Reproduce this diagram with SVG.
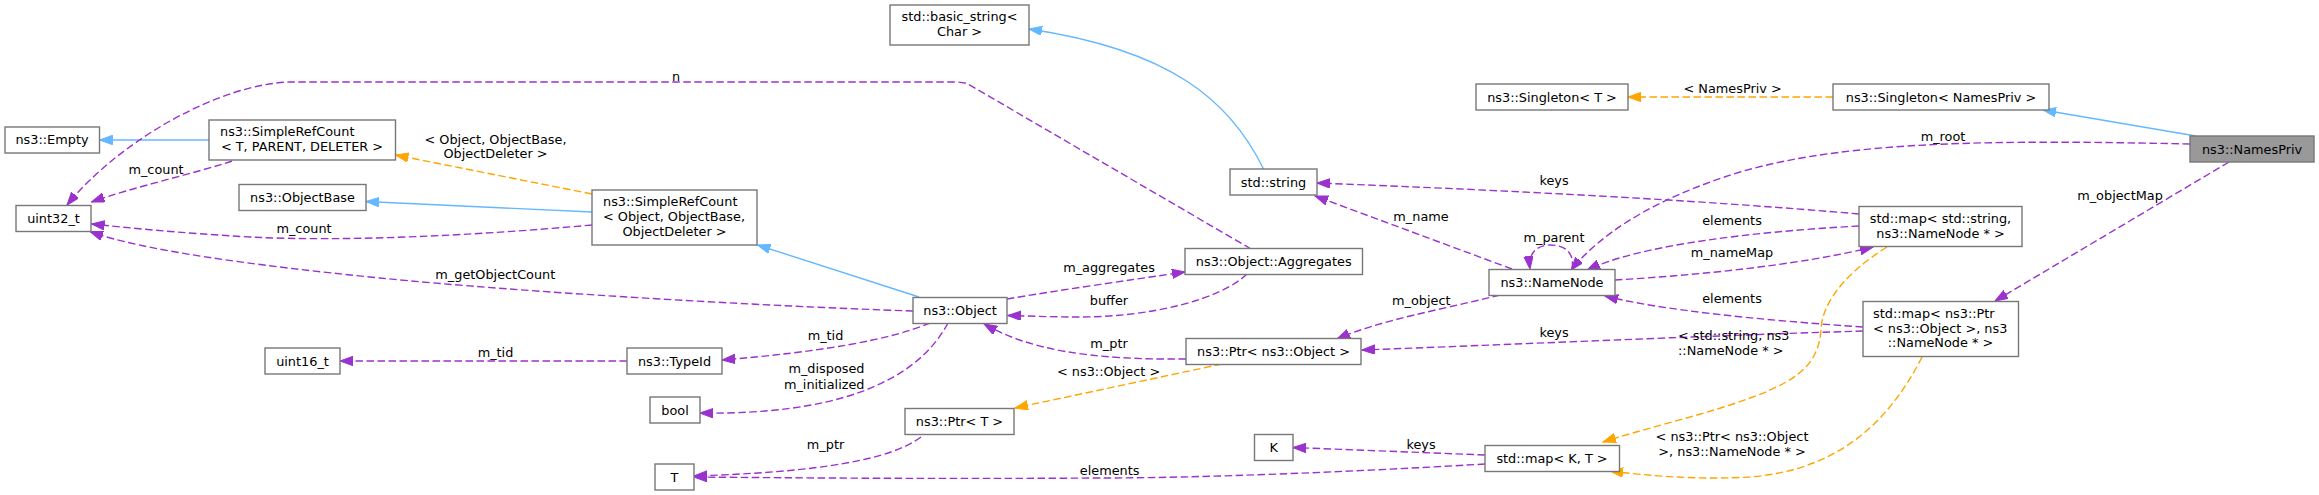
<svg xmlns="http://www.w3.org/2000/svg" width="2319" height="495" viewBox="0 0 2319 495">
<style>
.n rect{fill:#fff;stroke:#777;stroke-width:1.4}
.n.main rect{fill:#999}
text{font-family:"DejaVu Sans","Liberation Sans",sans-serif;font-size:12.85px;fill:#000}
.c{text-anchor:middle}
.s{text-anchor:start}
.e{text-anchor:end}
.edge path{fill:none;stroke-width:1.4}
.u{stroke:#9a32cd;stroke-dasharray:7.5,3.5;marker-end:url(#ap)}
.i{stroke:#63b8ff;marker-end:url(#ab)}
.t{stroke:#ffa500;stroke-dasharray:7.5,3.5;marker-end:url(#ao)}
</style>
<defs>
<marker id="ap" markerUnits="userSpaceOnUse" markerWidth="14" markerHeight="10" refX="13" refY="4.7" orient="auto"><path d="M0,0 L13,4.7 L0,9.4 z" fill="#9a32cd" stroke="#9a32cd" stroke-width="1"/></marker>
<marker id="ab" markerUnits="userSpaceOnUse" markerWidth="14" markerHeight="10" refX="13" refY="4.7" orient="auto"><path d="M0,0 L13,4.7 L0,9.4 z" fill="#63b8ff" stroke="#63b8ff" stroke-width="1"/></marker>
<marker id="ao" markerUnits="userSpaceOnUse" markerWidth="14" markerHeight="10" refX="13" refY="4.7" orient="auto"><path d="M0,0 L13,4.7 L0,9.4 z" fill="#ffa500" stroke="#ffa500" stroke-width="1"/></marker>
</defs>
<rect width="2319" height="495" fill="#fff"/>
<g id="connectors" class="edge">
<path class="i" d="M209,140 L99.5,140"/>
<path class="i" d="M592,212 L366,201.5"/>
<path class="t" d="M592,194 L395.5,155"/>
<path class="u" d="M232,161 C200,172 130,188 91.5,202"/>
<path class="u" d="M592,225 C480,235 350,242 250,237 C180,233 130,228 91.5,224"/>
<path class="u" d="M1251,249 L968,84 Q963,82 955,82 L290,82 C220,84 120,140 67,205"/>
<path class="u" d="M913,311 C760,306 520,292 380,278 C250,265 140,250 90,231.5"/>
<path class="u" d="M627,361 L340,361"/>
<path class="u" d="M930,323 C890,340 820,352 722,360"/>
<path class="u" d="M948,323 C915,385 830,415 700,413"/>
<path class="i" d="M919,297 L757.5,245"/>
<path class="u" d="M1007,299 C1060,290 1130,280 1185,272"/>
<path class="u" d="M1247,274 C1220,300 1150,317 1080,317 C1050,317 1030,316 1008,315.5"/>
<path class="u" d="M1186,359 C1090,360 1030,350 984,324"/>
<path class="t" d="M1222,364 L1015,408"/>
<path class="u" d="M921,437 C890,460 820,472 694,476"/>
<path class="u" d="M1485,464 C1350,472 1200,478 1100,478 C950,479 800,478 694,477"/>
<path class="u" d="M1485,455 L1293,447.5"/>
<path class="i" d="M1263.5,169 C1230,100 1170,50 1029,29"/>
<path class="u" d="M1859,214 C1700,200 1500,190 1317,183"/>
<path class="u" d="M1512,269 L1315,196"/>
<path class="u" d="M1500,295 C1440,310 1380,320 1337,339"/>
<path class="u" d="M1863,331 C1700,336 1500,345 1362,350"/>
<path class="u" d="M1863,327 C1760,320 1660,310 1605,296"/>
<path class="u" d="M1859,226 C1750,232 1640,245 1587,270"/>
<path class="u" d="M1615,280 C1700,275 1800,265 1873,247"/>
<path class="u" d="M2190,144 C2000,140 1850,140 1740,172 C1650,200 1600,235 1571,270"/>
<path class="u" d="M1572,269 C1575,250 1562,245 1550,245 C1538,245 1528,252 1530,269"/>
<path class="u" d="M2229,162 L1995,301"/>
<path class="t" d="M1887,247 C1850,270 1822,300 1821,330 C1818,370 1790,385 1730,405 C1690,418 1640,430 1603,442"/>
<path class="t" d="M1922,357 C1890,420 1840,470 1750,477 C1700,480 1650,476 1610,471"/>
<path class="t" d="M1833,97 L1628,97"/>
<path class="i" d="M2196,136 L2043,110"/>
</g>
<g id="edge-labels">
<text class="c" x="676" y="80.5">n</text>
<text class="c" x="156" y="173.5">m_count</text>
<text class="c" x="304" y="233">m_count</text>
<text class="c" x="495.5" y="143.8">&lt; Object, ObjectBase,</text>
<text class="c" x="495.5" y="158">ObjectDeleter &gt;</text>
<text class="c" x="495.3" y="278.8">m_getObjectCount</text>
<text class="c" x="495.5" y="357">m_tid</text>
<text class="c" x="825.5" y="340">m_tid</text>
<text class="e" x="864.5" y="372.8">m_disposed</text>
<text class="e" x="864.5" y="388.5">m_initialized</text>
<text class="c" x="1109" y="271.8">m_aggregates</text>
<text class="c" x="1109" y="304.5">buffer</text>
<text class="c" x="1109" y="347.8">m_ptr</text>
<text class="c" x="1108.6" y="376">&lt; ns3::Object &gt;</text>
<text class="c" x="825.5" y="449">m_ptr</text>
<text class="c" x="1109.6" y="475">elements</text>
<text class="c" x="1421" y="448.5">keys</text>
<text class="c" x="1554" y="185.2">keys</text>
<text class="c" x="1421" y="220.5">m_name</text>
<text class="c" x="1554" y="242">m_parent</text>
<text class="c" x="1421.3" y="305">m_object</text>
<text class="c" x="1554" y="337">keys</text>
<text class="c" x="1732" y="225">elements</text>
<text class="c" x="1732" y="257">m_nameMap</text>
<text class="c" x="1732" y="302.5">elements</text>
<text class="s" x="1678" y="340">&lt; std::string, ns3</text>
<text class="s" x="1678" y="354.5">::NameNode * &gt;</text>
<text class="c" x="1732" y="441">&lt; ns3::Ptr&lt; ns3::Object</text>
<text class="c" x="1732" y="455.5">&gt;, ns3::NameNode * &gt;</text>
<text class="c" x="1943" y="140.5">m_root</text>
<text class="c" x="2120" y="199.5">m_objectMap</text>
<text class="c" x="1732.6" y="92.8">&lt; NamesPriv &gt;</text>
</g>
<g id="n_empty" class="n"><rect x="5" y="127" width="94.5" height="26"/><text class="c" x="52" y="144">ns3::Empty</text></g>
<g id="n_uint32" class="n"><rect x="16" y="205.5" width="75" height="26"/><text class="c" x="53.5" y="223">uint32_t</text></g>
<g id="n_srct" class="n"><rect x="209" y="120" width="186.5" height="40"/><text class="s" x="220" y="136">ns3::SimpleRefCount</text><text class="c" x="302" y="151">&lt; T, PARENT, DELETER &gt;</text></g>
<g id="n_objectbase" class="n"><rect x="239" y="184.5" width="127" height="26"/><text class="c" x="302.5" y="202">ns3::ObjectBase</text></g>
<g id="n_srcobj" class="n"><rect x="592" y="190" width="165" height="55"/><text class="s" x="603" y="206">ns3::SimpleRefCount</text><text class="s" x="603" y="221">&lt; Object, ObjectBase,</text><text class="c" x="674.5" y="235.5">ObjectDeleter &gt;</text></g>
<g id="n_uint16" class="n"><rect x="265" y="348" width="75" height="26"/><text class="c" x="302.5" y="365.5">uint16_t</text></g>
<g id="n_typeid" class="n"><rect x="627" y="348" width="95" height="26"/><text class="c" x="674.5" y="365.5">ns3::TypeId</text></g>
<g id="n_bool" class="n"><rect x="650" y="397" width="50" height="26"/><text class="c" x="675" y="414.5">bool</text></g>
<g id="n_T" class="n"><rect x="655" y="464" width="39" height="26"/><text class="c" x="674.5" y="481.5">T</text></g>
<g id="n_basicstring" class="n"><rect x="890" y="5" width="139" height="40"/><text class="c" x="959.5" y="21">std::basic_string&lt;</text><text class="c" x="959.5" y="36">Char &gt;</text></g>
<g id="n_string" class="n"><rect x="1230" y="169" width="87" height="26"/><text class="c" x="1273.5" y="186.5">std::string</text></g>
<g id="n_object" class="n"><rect x="913" y="297.5" width="94" height="26"/><text class="c" x="960" y="315">ns3::Object</text></g>
<g id="n_aggregates" class="n"><rect x="1185" y="248.5" width="177.5" height="26"/><text class="c" x="1273.7" y="266">ns3::Object::Aggregates</text></g>
<g id="n_ptrobj" class="n"><rect x="1186" y="338.5" width="175" height="26"/><text class="c" x="1273.5" y="356">ns3::Ptr&lt; ns3::Object &gt;</text></g>
<g id="n_ptrT" class="n"><rect x="905" y="408.5" width="109" height="26"/><text class="c" x="959.5" y="426">ns3::Ptr&lt; T &gt;</text></g>
<g id="n_K" class="n"><rect x="1254.5" y="434.5" width="38.5" height="26"/><text class="c" x="1273.7" y="452">K</text></g>
<g id="n_namenode" class="n"><rect x="1489" y="269.5" width="126" height="26"/><text class="c" x="1552" y="287">ns3::NameNode</text></g>
<g id="n_mapKT" class="n"><rect x="1485" y="445.5" width="134.5" height="26"/><text class="c" x="1552" y="463">std::map&lt; K, T &gt;</text></g>
<g id="n_mapstring" class="n"><rect x="1859" y="206.5" width="163" height="40"/><text class="c" x="1940.5" y="223">std::map&lt; std::string,</text><text class="c" x="1940.5" y="237.5">ns3::NameNode * &gt;</text></g>
<g id="n_mapptr" class="n"><rect x="1863" y="301.5" width="155.5" height="55"/><text class="s" x="1873" y="317.8">std::map&lt; ns3::Ptr</text><text class="s" x="1873" y="332.5">&lt; ns3::Object &gt;, ns3</text><text class="c" x="1940.5" y="347">::NameNode * &gt;</text></g>
<g id="n_singletonT" class="n"><rect x="1476" y="84" width="152" height="26"/><text class="c" x="1552" y="101.5">ns3::Singleton&lt; T &gt;</text></g>
<g id="n_singletonNP" class="n"><rect x="1833" y="84" width="216" height="26"/><text class="c" x="1941" y="101.5">ns3::Singleton&lt; NamesPriv &gt;</text></g>
<g id="n_namespriv" class="n main"><rect x="2190" y="136" width="124" height="26"/><text class="c" x="2252" y="153.5">ns3::NamesPriv</text></g>
</svg>
